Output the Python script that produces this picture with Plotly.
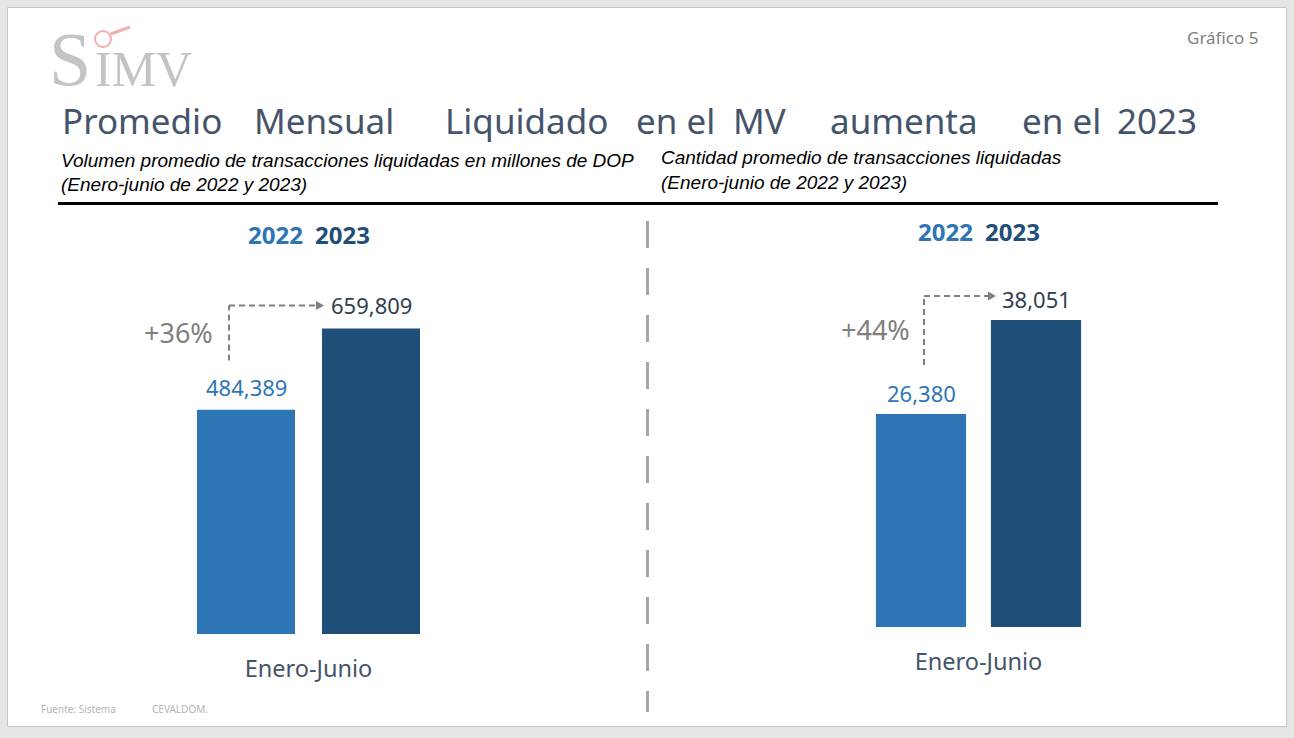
import plotly.graph_objects as go

W, H = 1294, 738

# ---------------- data ----------------
categories = ["Enero-Junio"]
years = ["2022", "2023"]
volumen = [484389, 659809]      # millones de DOP
cantidad = [26380, 38051]       # transacciones
crecimiento = ["+36%", "+44%"]
bar_colors = ["#2E75B6", "#1F4E79"]
label_colors = ["#2E75B6", "#333F50"]
title_words = ["Promedio", "Mensual", "Liquidado", "en el", "MV", "aumenta", "en el", "2023"]
title_x = [60, 252, 443, 634, 731, 828, 1020, 1115]


def px(x):
    return x / W


def py(y):
    return 1 - y / H


FONT = "Noto Sans"
fig = go.Figure()

for i, yr in enumerate(years):
    fig.add_trace(go.Bar(x=categories, y=[volumen[i]], name=yr, marker_color=bar_colors[i],
                         marker_line_width=0, xaxis="x", yaxis="y", showlegend=False))
for i, yr in enumerate(years):
    fig.add_trace(go.Bar(x=categories, y=[cantidad[i]], name=yr, marker_color=bar_colors[i],
                         marker_line_width=0, xaxis="x2", yaxis="y2", showlegend=False))

axis_common = dict(type="category", range=[-0.5, 0.5], autorange=False,
                   showgrid=False, zeroline=False, showline=False, ticks="outside",
                   ticklen=14, tickcolor="rgba(0,0,0,0)",
                   tickfont=dict(family=FONT, size=23.5, color="#44546A"), fixedrange=True)
fig.update_layout(
    width=W, height=H, margin=dict(l=0, r=0, t=0, b=0),
    paper_bgcolor="#E6E6E6", plot_bgcolor="rgba(0,0,0,0)",
    barmode="group", bargap=0, bargroupgap=0.216,
    xaxis=dict(domain=[px(183.5), px(433.5)], anchor="y", **axis_common),
    yaxis=dict(domain=[py(634), py(264)], range=[0, 799000], autorange=False,
               visible=False, anchor="x"),
    xaxis2=dict(domain=[px(863.5), px(1093.5)], anchor="y2", **axis_common),
    yaxis2=dict(domain=[py(627), py(264)], range=[0, 44980], autorange=False,
                visible=False, anchor="x2"),
    font=dict(family=FONT),
)

shapes = []
# slide
shapes.append(dict(type="rect", xref="paper", yref="paper", x0=px(7.5), x1=px(1286.5),
                   y0=py(726.5), y1=py(7.5), fillcolor="white",
                   line=dict(color="#C6C6C6", width=1), layer="below"))
# black rule
shapes.append(dict(type="line", xref="paper", yref="paper", x0=px(58), x1=px(1218),
                   y0=py(203.5), y1=py(203.5), line=dict(color="black", width=3)))
# divider
shapes.append(dict(type="line", xref="paper", yref="paper", x0=px(647.5), x1=px(647.5),
                   y0=py(221), y1=py(712), line=dict(color="#A6A6A6", width=3, dash="27px,20px")))

# growth arrows (pixel offsets relative to the 2023 bar top)
arrow_specs = [
    dict(xref="x", yref="y", top=volumen[1], vx=-79.5, vy0=-32, hy=23, tip=15.5),
    dict(xref="x2", yref="y2", top=cantidad[1], vx=-54.5, vy0=-45, hy=24, tip=17.5),
]
for a in arrow_specs:
    base = dict(xref=a["xref"], yref=a["yref"], xsizemode="pixel", ysizemode="pixel",
                xanchor=0, yanchor=a["top"])
    shapes.append(dict(type="line", x0=a["vx"], x1=a["vx"], y0=a["vy0"], y1=a["hy"],
                       line=dict(color="#7F7F7F", width=2, dash="6px,4px"), **base))
    shapes.append(dict(type="line", x0=a["vx"], x1=a["tip"] - 7, y0=a["hy"], y1=a["hy"],
                       line=dict(color="#7F7F7F", width=2, dash="6px,4px"), **base))
    t = a["tip"]
    h = a["hy"]
    shapes.append(dict(type="path",
                       path=f"M {t-8},{h+4.5} L {t},{h} L {t-8},{h-4.5} Z",
                       fillcolor="#7F7F7F", line=dict(width=0), **base))

# magnifier of logo
shapes.append(dict(type="circle", xref="paper", yref="paper", x0=px(95), x1=px(111),
                   y0=py(47), y1=py(31), line=dict(color="#F2AFAF", width=2)))
shapes.append(dict(type="line", xref="paper", yref="paper", x0=px(110.5), x1=px(130),
                   y0=py(34), y1=py(27), line=dict(color="#F2AFAF", width=3)))
fig.update_layout(shapes=shapes)

ann = []
# logo
ann.append(dict(text="S", x=px(92), y=py(59), xref="paper", yref="paper", xanchor="right",
                yanchor="middle", showarrow=False, borderpad=0,
                font=dict(family="Liberation Serif", size=76, color="#C4C4C4")))
ann.append(dict(text="IMV", x=px(94), y=py(69), xref="paper", yref="paper", xanchor="left",
                yanchor="middle", showarrow=False, borderpad=0,
                font=dict(family="Liberation Serif", size=50, color="#C4C4C4")))
# Gráfico 5
ann.append(dict(text="Gráfico 5", x=px(1260), y=py(38), xref="paper", yref="paper",
                xanchor="right", yanchor="middle", showarrow=False,
                font=dict(family=FONT, size=17, color="#7F7F7F")))
# title
for w, x in zip(title_words, title_x):
    ann.append(dict(text=w, x=px(x), y=py(121), xref="paper", yref="paper", xanchor="left",
                    yanchor="middle", showarrow=False,
                    font=dict(family=FONT, size=35, color="#44546A")))
# subtitles
sub_font = dict(family="Liberation Sans", size=19, color="black")
ann.append(dict(text="<i>Volumen promedio de transacciones liquidadas en millones de DOP</i>",
                x=px(59), y=py(160), xref="paper", yref="paper", xanchor="left",
                yanchor="middle", showarrow=False, font=sub_font))
ann.append(dict(text="<i>(Enero-junio de 2022 y 2023)</i>",
                x=px(59), y=py(185), xref="paper", yref="paper", xanchor="left",
                yanchor="middle", showarrow=False, font=sub_font))
ann.append(dict(text="<i>Cantidad promedio de transacciones liquidadas</i>",
                x=px(659), y=py(157), xref="paper", yref="paper", xanchor="left",
                yanchor="middle", showarrow=False, font=sub_font))
ann.append(dict(text="<i>(Enero-junio de 2022 y 2023)</i>",
                x=px(659), y=py(182), xref="paper", yref="paper", xanchor="left",
                yanchor="middle", showarrow=False, font=sub_font))

# year headers
for xc, yc in [(308.5, 234), (978.5, 232)]:
    for i, yr in enumerate(years):
        ann.append(dict(text=f"<b>{yr}</b>", x=px(xc + (-33.5 if i == 0 else 33.5)), y=py(yc),
                        xref="paper", yref="paper", xanchor="center", yanchor="middle",
                        showarrow=False, font=dict(family=FONT, size=24, color=bar_colors[i])))

# value labels
for i in range(2):
    ann.append(dict(text=f"{volumen[i]:,}", x=0, y=volumen[i], xref="x", yref="y",
                    xshift=(-62.5 if i == 0 else 62.5), yshift=23, yanchor="middle",
                    showarrow=False, font=dict(family=FONT, size=22, color=label_colors[i])))
    ann.append(dict(text=f"{cantidad[i]:,}", x=0, y=cantidad[i], xref="x2", yref="y2",
                    xshift=(-57.5 if i == 0 else 57.5), yshift=21, yanchor="middle",
                    showarrow=False, font=dict(family=FONT, size=22, color=label_colors[i])))

# growth text
ann.append(dict(text=crecimiento[0], x=0, y=volumen[1], xref="x", yref="y", xshift=-130.5,
                yshift=-4, showarrow=False, font=dict(family=FONT, size=27, color="#7F7F7F")))
ann.append(dict(text=crecimiento[1], x=0, y=cantidad[1], xref="x2", yref="y2", xshift=-103.5,
                yshift=-10, showarrow=False, font=dict(family=FONT, size=27, color="#7F7F7F")))

# footer
foot_font = dict(family=FONT, size=10, color="#B4B4B4")
ann.append(dict(text="Fuente: Sistema", x=px(39), y=py(709), xref="paper", yref="paper",
                xanchor="left", yanchor="middle", showarrow=False, font=foot_font))
ann.append(dict(text="CEVALDOM.", x=px(150), y=py(709), xref="paper", yref="paper",
                xanchor="left", yanchor="middle", showarrow=False, font=foot_font))

fig.update_layout(annotations=ann)
fig.write_html("out.html")
